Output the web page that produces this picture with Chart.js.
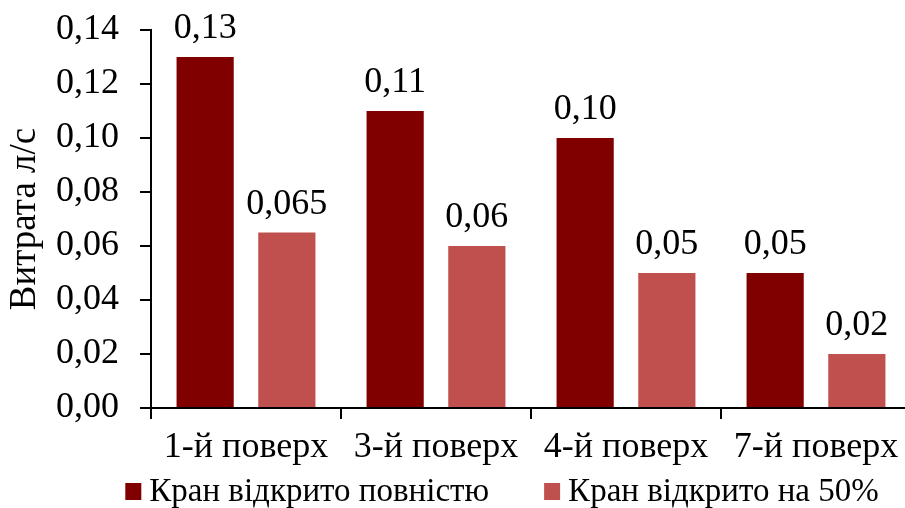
<!DOCTYPE html>
<html>
<head>
<meta charset="utf-8">
<script src="https://cdn.jsdelivr.net/npm/chart.js@4/dist/chart.umd.min.js"></script>
<style>
  html, body { margin: 0; padding: 0; background: #fff; overflow: hidden; width: 905px; height: 508px; }
  #wrap { position: relative; width: 912px; height: 508px; }
</style>
</head>
<body>
<div id="wrap"><canvas id="c" width="912" height="508"></canvas></div>
<script>
// Flow rate per floor, tap fully open vs. half open
const categories = ['1-й поверх', '3-й поверх', '4-й поверх', '7-й поверх'];
const fullOpen = [0.13, 0.11, 0.10, 0.05];
const halfOpen = [0.065, 0.06, 0.05, 0.02];
const fullOpenLabels = ['0,13', '0,11', '0,10', '0,05'];
const halfOpenLabels = ['0,065', '0,06', '0,05', '0,02'];
const yMin = 0, yMax = 0.14, yStep = 0.02;

const FONT = '"Liberation Serif", "Times New Roman", serif';
Chart.defaults.font.family = FONT;
Chart.defaults.color = '#000';

// Draws the value text above every bar
const valueLabels = {
  id: 'valueLabels',
  afterDatasetsDraw(chart) {
    const ctx = chart.ctx;
    ctx.save();
    ctx.font = '36px ' + FONT;
    ctx.fillStyle = '#000';
    ctx.textAlign = 'center';
    ctx.textBaseline = 'alphabetic';
    chart.data.datasets.forEach((ds, i) => {
      chart.getDatasetMeta(i).data.forEach((bar, j) => {
        ctx.fillText(ds.valueLabels[j], bar.x, bar.y - 19);
      });
    });
    ctx.restore();
  }
};

// Legend row under the axis: square swatch + series name, centred on legendCenterX
const legendCenterX = 502, legendY = 492, swatch = 16, swatchGap = 8, itemGap = 55;
const bottomLegend = {
  id: 'bottomLegend',
  afterDraw(chart) {
    const ctx = chart.ctx;
    ctx.save();
    ctx.font = '33px ' + FONT;
    ctx.textBaseline = 'middle';
    ctx.textAlign = 'left';
    const items = chart.data.datasets.map(ds => ({
      text: ds.label, color: ds.backgroundColor, w: ctx.measureText(ds.label).width
    }));
    const total = items.reduce((s, it) => s + swatch + swatchGap + it.w, 0) + itemGap * (items.length - 1);
    let x = legendCenterX - total / 2;
    items.forEach(it => {
      ctx.fillStyle = it.color;
      ctx.fillRect(x, legendY - swatch / 2 - 1, swatch, swatch + 1);
      ctx.fillStyle = '#000';
      ctx.fillText(it.text, x + swatch + swatchGap, legendY);
      x += swatch + swatchGap + it.w + itemGap;
    });
    ctx.restore();
  }
};

new Chart(document.getElementById('c'), {
  type: 'bar',
  data: {
    labels: categories,
    datasets: [
      { label: 'Кран відкрито повністю', data: fullOpen, valueLabels: fullOpenLabels,
        backgroundColor: '#800000', categoryPercentage: 0.86, barPercentage: 0.70 },
      { label: 'Кран відкрито на 50%', data: halfOpen, valueLabels: halfOpenLabels,
        backgroundColor: '#C0504D', categoryPercentage: 0.86, barPercentage: 0.70 }
    ]
  },
  options: {
    responsive: false,
    animation: false,
    layout: { padding: { top: 30, left: 0, right: 1, bottom: 40 } },
    plugins: {
      legend: { display: false },
      tooltip: { enabled: false }
    },
    scales: {
      x: {
        grid: { display: true, drawOnChartArea: false, drawTicks: true, tickLength: 11, color: '#000', lineWidth: 2, offset: true },
        border: { display: true, color: '#000', width: 2 },
        ticks: { color: '#000', font: { size: 36 }, padding: 7, maxRotation: 0, autoSkip: false },
        afterFit(s) { s.height = 60; s.paddingLeft = 0; s.paddingRight = 0; }
      },
      y: {
        min: yMin, max: yMax,
        ticks: { stepSize: yStep, color: '#000', font: { size: 36 }, padding: 21,
                 callback: v => v.toFixed(2).replace('.', ',') },
        grid: { drawOnChartArea: false, drawTicks: true, tickLength: 11, color: '#000', lineWidth: 2 },
        border: { display: true, color: '#000', width: 2 },
        title: { display: true, text: 'Витрата л/с', color: '#000', font: { size: 37 }, padding: { top: 3, bottom: 0 } },
        afterFit(s) { s.width = 151; s.paddingTop = 0; s.paddingBottom = 0; }
      }
    }
  },
  plugins: [valueLabels, bottomLegend]
});
</script>
</body>
</html>
